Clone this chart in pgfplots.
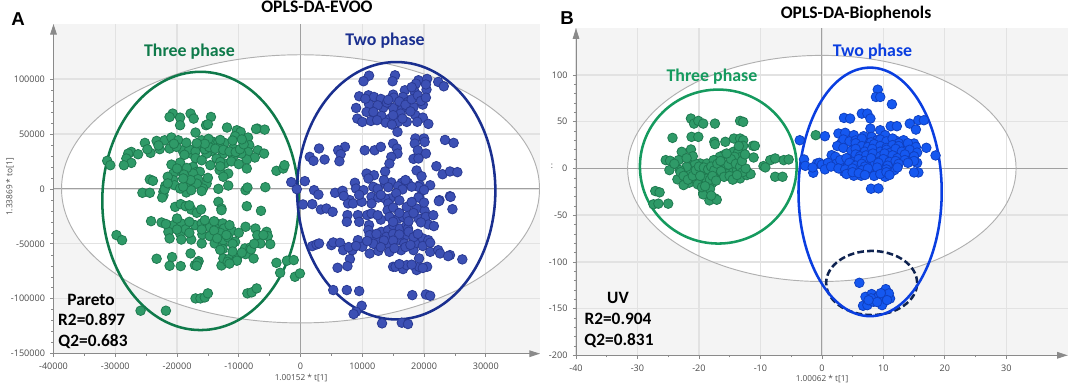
\documentclass[border=0pt]{standalone}
\usepackage{pgfplots}
\pgfplotsset{compat=1.18}
\usepackage{fontspec}
\setmainfont{Open Sans}
\setsansfont{Liberation Sans}
\newfontfamily\calib{Carlito}
\usetikzlibrary{arrows.meta}
\definecolor{bgg}{HTML}{F4F4F4}
\definecolor{gridg}{HTML}{E2E2E2}
\definecolor{tickg}{HTML}{8A8A8A}
\definecolor{labg}{HTML}{4A4A4A}
\definecolor{zerog}{HTML}{A0A0A0}
\definecolor{hot}{HTML}{B0B0B0}
\definecolor{gfA}{HTML}{2F9A68}
\definecolor{geA}{HTML}{1F7A50}
\definecolor{bfA}{HTML}{3C50B4}
\definecolor{beA}{HTML}{2A3A92}
\definecolor{bfB}{HTML}{1558F0}
\definecolor{beB}{HTML}{0F40C0}
\definecolor{elGA}{HTML}{0F7A4A}
\definecolor{elBA}{HTML}{1A2F8F}
\definecolor{elGB}{HTML}{159A5E}
\definecolor{elBB}{HTML}{0A3EE0}
\definecolor{elD}{HTML}{0F2350}
\pgfplotsset{
  panel/.style={
    scale only axis, set layers,
    anchor=south west,
    axis x line*=bottom, axis y line*=left,
    axis line style={tickg,line width=0.75pt,-{Triangle[length=8pt,width=5pt]}},
    axis background/.style={fill=bgg},
    grid=major, major grid style={gridg,line width=1pt},
    tick align=outside,
    major tick length=2.4pt, minor tick length=1.6pt,
    tick style={tickg,line width=0.5pt},
    minor tick style={tickg,line width=0.4pt},
    tick label style={font=\fontsize{6.8}{8}\selectfont,text=labg},
    scaled ticks=false,
    clip=true,
    xticklabel style={yshift=-1pt},
    yticklabel style={xshift=-0.5pt},
  },
  grn/.style={only marks,mark=*,mark size=3.6pt,mark options={fill=gfA,draw=geA,line width=0.6pt}},
  blA/.style={only marks,mark=*,mark size=3.6pt,mark options={fill=bfA,draw=beA,line width=0.6pt}},
  blB/.style={only marks,mark=*,mark size=3.6pt,mark options={fill=bfB,draw=beB,line width=0.6pt}},
}
\begin{document}
\begin{tikzpicture}
% ---------------- Panel A
\begin{axis}[panel,at={(40.125pt,26.475pt)},width=364.875pt,height=247.275pt,
  xmin=-40000,xmax=38780,ymin=-150000,ymax=150000,
  xtick={-40000,-30000,...,30000},ytick={-150000,-100000,...,100000},
  xticklabels={-40000,-30000,-20000,-10000,0,10000,20000,30000},
  yticklabels={-150000,-100000,-50000,0,50000,100000},
  minor x tick num=1,minor y tick num=4]
\begin{pgfonlayer}{axis background}
\fill[white] (axis cs:0,0) ellipse [x radius=38700,y radius=122000];
\end{pgfonlayer}
\draw[zerog,line width=0.9pt] (axis cs:0,-150000)--(axis cs:0,150000);
\draw[zerog,line width=0.9pt] (axis cs:-40000,0)--(axis cs:38780,0);
\draw[hot,line width=0.7pt] (axis cs:0,0) ellipse [x radius=38700,y radius=122000];
\addplot[grn] coordinates {
(-20700,68500)(-21200,65400)(-19500,64800)(-17800,68500)(-17300,63900)(-14500,65400)(-19500,57900)(-15300,57900)(-15000,58800)(-11900,55800)
(-17000,51200)(-7000,54800)(-5800,53900)(-7200,54500)(-10300,53300)(-9700,51800)(-10600,47900)(-8500,46700)(-25200,41800)(-23300,43600)
(-22000,44200)(-20900,46700)(-19800,44200)(-21200,36700)(-22800,36100)(-24300,32700)(-27400,33600)(-27900,32100)(-26300,31500)(-28200,27600)
(-27400,23600)(-28600,21500)(-31300,25500)(-30800,21500)(-16300,39700)(-16000,44200)(-14100,42700)(-13300,42700)(-12300,41800)(-10900,36700)
(-13100,38200)(-14400,34500)(-15200,32100)(-17700,32100)(-19100,35100)(-20100,38200)(-8300,39700)(-8500,33600)(-6900,35100)(-5900,32100)
(-7400,28500)(-8700,26700)(-9600,32100)(-10900,29100)(-12500,32100)(-13600,27600)(-12300,23000)(-14600,21500)(-19500,23900)(-20900,22100)
(-17400,20000)(-16800,15500)(-16300,15500)(-19500,16100)(-20600,13900)(-17400,13900)(-13100,17000)(-11700,13900)(-8700,18500)(-3900,16400)
(-2800,18500)(-2600,21500)(-20600,7900)(-24400,8500)(-23900,7300)(-18200,6400)(-16600,8800)(-15200,4800)(-20400,3300)(-21900,2700)
(-15800,300)(-16800,4800)(-11700,3000)(-13300,0)(-8900,-1200)(-8600,1200)(-5700,1500)(-18500,-3300)(-17700,-1200)(-19500,300)
(-22200,-2700)(-25600,-3600)(-24400,-3600)(-22200,-5800)
(-20300,-16400)(-19400,-13900)(-18600,-15800)(-17700,-18800)(-16800,-21800)(-16100,-18800)(-13300,-11800)(-12800,-17900)(-12800,-19400)(-8700,-15800)
(-6400,-20000)(-22400,-7900)(-24200,-29400)(-22500,-30600)(-21400,-34500)(-20600,-33000)(-19300,-31500)(-17100,-33000)(-16000,-31500)(-14700,-35100)
(-13600,-31500)(-12600,-31500)(-12400,-36100)(-11100,-38200)(-8900,-34500)(-7300,-36100)(-7000,-42100)(-5500,-39100)(-5300,-43000)(-4900,-50300)
(-6500,-49700)(-21400,-39100)(-21200,-45100)(-19500,-40600)(-19300,-46100)(-18600,-36700)(-17700,-46100)(-16000,-49700)(-15900,-41500)(-14700,-43000)
(-13900,-49700)(-12600,-51200)(-12500,-46700)(-11700,-44200)(-10600,-48200)(-12600,-54800)(-9000,-54200)(-8100,-53300)(-8900,-59400)(-7600,-63300)
(-29800,-42100)(-28900,-46700)(-17800,-58800)(-23300,-63600)(-20800,-62100)(-21200,-70000)(-19400,-70300)(-17100,-69400)(-16500,-65800)(-16700,-67300)
(-12800,-69700)(-12500,-63300)(-11600,-63900)(-11800,-66400)(-10300,-63300)(-10300,-65400)(-3900,-67300)(-3300,-76400)(-2200,-65400)(-1100,-64800)
(-900,-80000)(-100,-77000)(-17000,-99700)(-16200,-99700)(-15500,-98800)(-15000,-95100)(-8600,-95100)(-7900,-94200)(-7100,-90600)(-25900,-110900)(-21800,-110900)
(-18000,36000)(-17000,34000)(-15500,36000)(-14800,38000)(-13800,36500)(-12500,35500)(-11500,34000)(-10500,33500)(-9800,36000)(-9200,40500)
(-9500,45000)(-11000,44000)(-13000,44500)(-14900,45500)(-15500,41000)(-16800,41500)(-18500,42000)(-20500,41000)(-23000,39500)(-24800,36000)
(-18800,31000)(-17000,28000)(-16000,26000)(-13000,24500)(-11200,25000)(-10000,22500)(-13000,20500)(-18400,19000)(-18900,13000)(-20000,18500)
(-21500,11000)(-17800,8000)(-15000,10000)(-19000,2000)(-16000,-2000)(-22000,-500)(-12500,11000)(-19000,9500)(-21500,5000)(-18000,-15000)
(-20000,-27000)(-18000,-30000)(-15500,-28500)(-14000,-29500)(-11500,-33000)(-10000,-40000)(-13000,-40000)(-14000,-38000)(-16000,-37000)(-18000,-40000)
(-20000,-37000)(-21800,-32000)(-12000,-42000)(-11000,-50000)(-13500,-45000)(-13000,-55500)(-11000,-57000)(-9500,-58000)(-8000,-55000)(-7500,-50000)
(-6000,-42000)(-11500,-68000)(-16800,-70000)
};
\addplot[blA] coordinates {
(11100,103000)(10200,97900)(15300,103300)(14900,97900)(19100,98800)(20500,100000)(22300,97300)(23200,93300)(18700,95700)(20400,90300)
(9500,84200)(11000,85100)(11900,83600)(13000,81800)(15000,85700)(15100,83000)(16900,89700)(16600,83600)(18500,88200)(17400,79100)
(19800,76700)(9000,73600)(11100,77000)(10700,70000)(9200,63900)(10000,60900)(11400,61800)(13400,73900)(13100,66400)(15000,73600)
(16500,73000)(18300,74500)(14500,63900)(13800,60300)(17200,60900)(18600,67000)(19800,64800)(20700,59100)(15700,51800)(15800,60900)
(18600,45800)(20000,45800)(18500,41200)(20100,42700)(23400,44500)(24800,41800)(3000,36700)(7200,38200)(6100,35100)(6500,31500)
(6300,25100)(1500,29100)(2100,25500)(3900,26700)(10400,35100)(12000,35100)(13000,38200)(15000,41200)(15600,36700)(15700,32100)
(14700,29100)(14400,23000)(19000,35100)(20300,32100)(18300,27300)(19100,27600)(22000,20600)(23000,13300)(24200,15800)(25400,15200)
(13700,15800)(18800,16700)(19600,11500)(10700,13900)(11900,12400)(11000,9400)(8800,5500)(9000,300)(13700,4800)(14700,5800)
(16400,5500)(17400,5500)(19300,3300)(21000,3300)(19100,1800)(15800,2400)(-1500,6100)(700,7000)(-600,-300)(2200,-1200)
(5600,-3600)(6800,-1800)(2900,-5200)(10200,-1200)(11800,1800)(11500,-7300)(14500,-8800)(24200,-6700)(22500,-10300)(19200,-7300)(8000,-10300)
(400,-14200)(1900,-13900)(3300,-18800)(4200,-17900)(5200,-20900)(7700,-13300)(8500,-13300)(9900,-11800)(11500,-13300)(12600,-7900)
(13700,-8800)(7600,-23900)(7500,-30000)(9300,-23900)(10800,-23900)(11500,-22400)(14200,-13300)(14100,-19400)(14400,-25500)(15800,-27000)
(17200,-16400)(16600,-25500)(17300,-24800)(18800,-17900)(19100,-27000)(20100,-20000)(20300,-25500)(20700,-32400)(21600,-33900)(11100,-33000)
(11000,-37600)(19100,-7900)(22400,-11200)(24300,-7300)(24600,-18500)(1900,-52100)(2600,-50600)(3000,-49700)(5000,-51200)(5300,-48800)
(6400,-49100)(6900,-55800)(8400,-55800)(9300,-46700)(10000,-52700)(11200,-42100)(11200,-58800)(12600,-56400)(12200,-46700)(13100,-39100)
(14200,-37600)(13900,-43600)(14400,-51200)(14400,-57300)(15000,-33000)(16100,-36100)(17200,-33000)(17400,-36100)(16100,-46700)(17200,-42100)
(16300,-55800)(16800,-49700)(18300,-55800)(18800,-49100)(19800,-45100)(20700,-46700)(21000,-57300)(22300,-55800)(22600,-58800)(24200,-60300)
(23900,-61200)(26200,-64200)(8000,-63900)(7600,-70300)(6000,-71800)(15000,-70900)(15400,-70900)(16600,-73000)(17200,-69400)(18800,-73900)
(19200,-70900)(20500,-70900)(19200,-63300)(5300,-92100)(7500,-92100)(9500,-93000)(18100,-96700)(20300,-96100)(21000,-97300)(9900,-106400)
(9000,-111800)(8600,-113900)(13200,-122400)(16400,-121800)(17400,-123000)
(10500,82000)(12500,76000)(14000,78500)(14200,81000)(16000,79500)(17000,76500)(18000,81500)(19000,85000)(19500,80000)(20300,83000)
(18000,92500)(20300,95000)(17800,70500)(16200,68500)(15000,67000)(11800,70000)(12400,62500)(14800,58500)(16500,64000)(18900,61000)
(13500,8000)(12500,0)(14200,1500)(16500,-500)(18000,2000)(20000,-1000)(17000,8000)(15500,-4000)(13000,-5500)(9500,-5500)
(7000,-6500)(16000,-10500)(18000,-12000)(20000,-12500)(15000,-17000)(16000,-22000)(18300,-22000)(13000,-28000)(15000,-30000)(17500,-29500)
(12500,-24000)(9500,-30000)(19500,-30500)(21500,-24000)(13500,-47000)(15000,-41000)(16000,-41500)(17500,-39000)(18300,-44000)(19000,-41000)
(17000,-53000)(15000,-47000)(11800,-50000)(13000,-53000)(7800,-53000)(9000,-52000)(10800,-47500)(12300,-41000)(15200,-54000)(19800,-52000)
(17800,-51000)(21000,-49000)(18000,-69000)(16000,-68500)(19800,-72000)
};
\draw[elGA,line width=1.9pt] (axis cs:-16200,-11000) ellipse [x radius=15900,y radius=117500];
\draw[elBA,line width=1.9pt] (axis cs:15500,-1700) ellipse [x radius=16050,y radius=117100];
\end{axis}
% ---------------- Panel B
\begin{axis}[panel,at={(432pt,25.275pt)},width=368.775pt,height=245.25pt,
  xmin=-40,xmax=40,ymin=-200,ymax=150,
  xtick={-40,-30,...,30},ytick={-200,-150,...,100},
  xticklabels={-40,-30,-20,-10,0,10,20,30},
  yticklabels={-200,-150,-100,-50,0,50,100},
  minor x tick num=1,minor y tick num=4]
\begin{pgfonlayer}{axis background}
\fill[white] (axis cs:0,0) ellipse [x radius=31.6,y radius=121];
\end{pgfonlayer}
\draw[zerog,line width=0.9pt] (axis cs:0,-200)--(axis cs:0,150);
\draw[zerog,line width=0.9pt] (axis cs:-40,0)--(axis cs:40,0);
\draw[hot,line width=0.7pt] (axis cs:0,0) ellipse [x radius=31.6,y radius=121];
\addplot[grn] coordinates {
(-21.3,53.4)(-20.8,48)(-20.1,50.9)(-19.3,48)(-17.4,48)(-13.3,50.9)(-12.8,49.8)(-24.3,32.7)(-21.2,33.8)(-20.1,33.8)
(-17.5,28.5)(-17.4,26)(-15.7,28.5)(-14.3,32)(-13.3,32)(-12.8,30.2)(-12.8,24.2)(-11.2,24.2)(-10.9,24.2)(-11.1,11.7)
(-22.8,17.8)(-21.3,20.3)(-21.2,10.7)(-14.4,17.8)(-13.6,17.8)(-13.1,12.5)(-14.2,12.5)(-16,14.2)(-16.6,12.5)(-8.4,8.9)
(-7.6,10.7)(-9.5,2.5)(-9.2,1.1)(-6.2,8.9)(-5.4,9.6)(-7.6,-8.9)(-6.4,-8.9)(-25.4,8.9)(-24.7,8.2)(-24.8,-1.8)
(-23.5,-11.7)(-21.6,-15.3)(-22.3,-5.3)(-22.5,-17.8)(-19.8,5.3)(-20.6,5.3)(-21.4,-3.6)(-18.7,5.3)(-17.6,8.9)(-16.8,1.8)
(-19.3,-7.1)(-18.2,-5.3)(-16.6,-7.1)(-15.7,0)(-14.4,-3.6)(-13.3,-10.7)(-12.2,-7.1)(-11.6,-6)(-13.8,-1.8)(-18.9,-16)
(-17.9,-16)(-27.1,-24.2)(-26.4,-25.6)(-18.5,-26.7)(-17.4,-32)(-19.3,-26)(-23.3,8.9)(-22,1.8)(-23.1,-1.8)(-20.4,-12.5)
(-19.3,-14.2)(-17.4,-10.7)(-15.5,3.6)(-14.7,7.1)(-27.4,-38.4)(-26.6,-37.7)(-25,-37.7)(-18.3,-34.2)(-17.1,-33.5)(-19.3,-27.8)(-1,35.6)
(-24,5)(-23,-4)(-22.5,-8)(-21.8,-12)(-21,-8)(-20.5,-2)(-20,2)(-19.2,1)(-18.5,-1)(-18,2)
(-17.5,-2)(-17,5)(-16.4,-3)(-15.9,-9)(-15.2,4)(-14.8,10)(-14,5)(-13.3,2)(-12.9,-4)(-12.4,0)
(-20.2,-17)(-19.5,-20)(-18.8,-11)(-18.2,-12)(-17.8,-8)(-17.2,-13)(-19.8,-8)(-21,13)(-22,11)(-13,8)
(-15,-8)(-14.5,-12)(-13.8,-7)(-18.2,-22)(-19,-19)(-18,-29)(-16.5,8)(-12.5,15)(-13.5,24)(-15.5,16)
};
\addplot[blB] coordinates {
(9.1,84.3)(8.8,76.5)(9.5,76.5)(11.4,68.7)(6.5,58.7)(7.4,58.7)(7.9,53.4)(3.6,54.1)(4.6,53.4)(14.3,48)
(15.3,41.6)(15.7,51.6)(16.6,51.6)(-3.6,30.2)(0.5,34.5)(6.8,34.5)(7.9,42.7)(9.5,40.9)(11.2,45.2)(12.2,45.2)
(2.7,37.4)(3.1,26.7)(3.8,38.1)(5.2,35.6)(10.3,35.6)(12.1,29.5)(15,26.7)(17,22.1)(18.5,13.9)(13.8,17.8)
(15.5,6)(15.7,-4.3)(15,-4.3)(-2.9,9.6)(-2.7,2.8)(-1.4,-4.6)(-0.8,5.3)(-0.4,6)(1.6,14.2)(2.2,12.5)
(3.5,5.3)(4.3,3.6)(3.6,-3.6)(5.2,-7.8)(6.4,-7.8)(7.7,-3.6)(9,-5.3)(10.3,-8.9)(11,1.8)(11.8,-1.8)
(10.9,14.2)(9,10.7)(6.4,8.9)(6.4,19.6)(9.1,20.6)(7.3,26.7)(5.2,23.1)(8.1,33.8)(10.9,26.7)(13,23.1)
(14.4,14.2)(12.8,12.5)(8,-21.7)(9.2,-21.4)(2.4,5.3)(6,1.8)(7.9,5.3)(10,5.3)(11.9,5.3)(9,30.2)
(4.9,12.5)(14.9,19.6)(13.3,30.2)(10,23.1)
(3.5,31)(4.5,29)(5.5,30)(6.5,32)(8,28)(9.5,31)(10.5,29)(11.5,32)(12.5,27)(2.5,24)(3.5,22)(5.5,27)(6.5,24)(7.5,23)(8.5,26)
(9.5,24)(10.5,22)(11.5,25)(12.5,24)(14,27)(15.3,23)(4.8,19)(5.5,21)(7,18)(8.2,21)(9.5,18)(10.5,20)(11.2,17)(12,21)(13,18)(14.3,20)(15.5,17)
(5.5,15)(6.2,13)(7.2,14)(8.3,16)(9.5,13)(10.2,16)(11.5,14)(12.3,11)(13.5,15)(15,13)
(3,9)(4,11)(5,7)(6,10)(7,8)(8,11)(9.5,8)(10,10)(11,7)(12,8)(13.5,9)(15,8)
(0,4)(1,6)(4.5,6)(5.5,3)(6.5,5)(7,2)(8.5,3)(9.2,6)(10.7,3)(12.5,5)(14,6)
(-1.5,1)(0.5,-1)(1.5,2)(2.7,0)(3.8,-1)(5,0)(6.5,-2)(7.5,0)(9,1)(10.5,-1)(12.3,1)
(4,-6)(5,-4)(6,-5)(7,-7)(8.5,-8)(9.5,-6)(10.5,-4)(11,-7)
(6.1,-122.4)(10.4,-129.2)(7.1,-137.4)(8.1,-134.5)(9,-138.1)(10.3,-135.6)(11.1,-139.2)(10.9,-133.8)(6.7,-147)(7.4,-146.3)
(8.4,-142.7)(10,-142.7)(9.8,-146.3)(9.2,-137.4)(10.6,-140.9)(8,-139)(9,-143)(7.6,-141)(9.6,-133.5)
};
\draw[elGB,line width=1.9pt] (axis cs:-16.85,2) ellipse [x radius=12.75,y radius=82.4];
\draw[elD,line width=1.9pt,dash pattern=on 5pt off 2.4pt] (axis cs:8.1,-122.6) ellipse [x radius=7.4,y radius=34.3];
\draw[elBB,line width=1.9pt] (axis cs:7.85,-25.1) ellipse [x radius=11.65,y radius=133];
\end{axis}
% ---------------- Texts (pixel coordinates of the reference)
\begin{scope}[x=0.75pt,y=-0.75pt,yshift=291.75pt,every node/.style={inner sep=0pt}]
\node[font=\calib\bfseries\fontsize{13.2}{15}\selectfont] at (317,7) {OPLS-DA-EVOO};
\node[font=\calib\bfseries\fontsize{13.2}{15}\selectfont] at (856,14) {OPLS-DA-Biophenols};
\node[font=\sffamily\bfseries\fontsize{14}{16}\selectfont] at (18,19) {A};
\node[font=\sffamily\bfseries\fontsize{14}{16}\selectfont] at (567,18) {B};
\node[font=\calib\bfseries\fontsize{13.4}{15}\selectfont,text=elGA] at (189.5,52) {Three phase};
\node[font=\calib\bfseries\fontsize{13.4}{15}\selectfont,text=elBA] at (385,41) {Two phase};
\node[font=\calib\bfseries\fontsize{13.4}{15}\selectfont,text=elGB] at (712,77) {Three phase};
\node[font=\calib\bfseries\fontsize{13.4}{15}\selectfont,text=elBB] at (872.5,52) {Two phase};
\foreach \t/\xx/\yy in {Pareto/91/300,R2=0.897/91.7/320,Q2=0.683/93/341.7,UV/618/298,R2=0.904/618/319,Q2=0.831/619/340.7}
  \node[font=\calib\bfseries\fontsize{13}{15}\selectfont] at (\xx,\yy) {\t};
\node[font=\fontsize{6.2}{8}\selectfont,text=labg,rotate=90] at (10,187) {1.33869 * to[1]};
\node[font=\fontsize{6.2}{8}\selectfont,text=labg] at (301,378) {1.00152 * t[1]};
\node[font=\fontsize{6.2}{8}\selectfont,text=labg] at (822,379) {1.00062 * t[1]};
\node[font=\fontsize{6.2}{8}\selectfont,text=labg] at (552,166) {:};
\end{scope}
\pgfresetboundingbox
\path[use as bounding box] (0,0) rectangle (805.5pt,291.75pt);
\end{tikzpicture}
\end{document}
